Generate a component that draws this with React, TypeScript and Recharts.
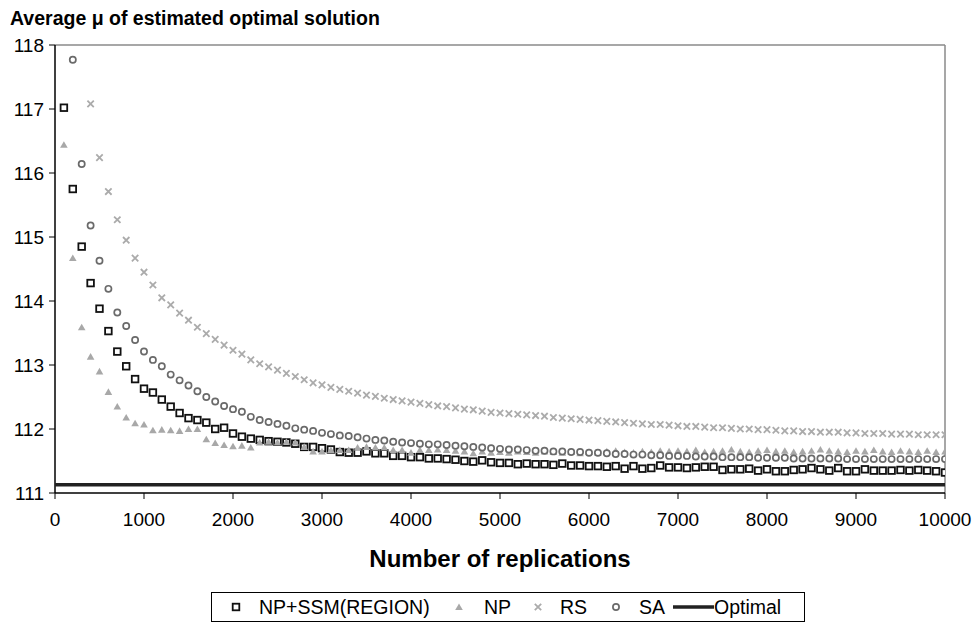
import React from "react";
import { ScatterChart, Scatter, XAxis, YAxis, ReferenceLine, Legend, Label } from "recharts";

const FONT = '"Liberation Sans", Arial, Helvetica, sans-serif';

// number of replications (x values)
const replications = [
  100, 200, 300, 400, 500, 600, 700, 800, 900, 1000,
  1100, 1200, 1300, 1400, 1500, 1600, 1700, 1800, 1900, 2000,
  2100, 2200, 2300, 2400, 2500, 2600, 2700, 2800, 2900, 3000,
  3100, 3200, 3300, 3400, 3500, 3600, 3700, 3800, 3900, 4000,
  4100, 4200, 4300, 4400, 4500, 4600, 4700, 4800, 4900, 5000,
  5100, 5200, 5300, 5400, 5500, 5600, 5700, 5800, 5900, 6000,
  6100, 6200, 6300, 6400, 6500, 6600, 6700, 6800, 6900, 7000,
  7100, 7200, 7300, 7400, 7500, 7600, 7700, 7800, 7900, 8000,
  8100, 8200, 8300, 8400, 8500, 8600, 8700, 8800, 8900, 9000,
  9100, 9200, 9300, 9400, 9500, 9600, 9700, 9800, 9900, 10000,
];

const npSsm = [
  117.02, 115.75, 114.85, 114.28, 113.88, 113.53, 113.21, 112.98, 112.78, 112.63,
  112.57, 112.46, 112.35, 112.25, 112.17, 112.14, 112.1, 112.0, 112.02, 111.93,
  111.88, 111.85, 111.83, 111.81, 111.8, 111.79, 111.77, 111.72, 111.72, 111.7,
  111.68, 111.64, 111.63, 111.63, 111.65, 111.62, 111.62, 111.58, 111.58, 111.56,
  111.56, 111.54, 111.54, 111.53, 111.52, 111.5, 111.49, 111.51, 111.48, 111.47,
  111.47, 111.45, 111.46, 111.45, 111.45, 111.44, 111.46, 111.43, 111.43, 111.42,
  111.42, 111.41, 111.42, 111.38, 111.42, 111.38, 111.39, 111.43, 111.4, 111.4,
  111.39, 111.4, 111.41, 111.41, 111.36, 111.37, 111.37, 111.38, 111.35, 111.37,
  111.34, 111.34, 111.36, 111.37, 111.39, 111.37, 111.35, 111.39, 111.34, 111.34,
  111.37, 111.35, 111.35, 111.35, 111.36, 111.35, 111.36, 111.35, 111.34, 111.32,
];

const np = [
  116.44, 114.67, 113.59, 113.13, 112.9, 112.58, 112.35, 112.18, 112.09, 112.07,
  111.98, 111.99, 111.98, 111.97, 112.0, 112.0, 111.84, 111.78, 111.75, 111.73,
  111.74, 111.71, 111.79, 111.8, 111.79, 111.8, 111.79, 111.72, 111.65, 111.65,
  111.67, 111.67, 111.67, 111.71, 111.72, 111.71, 111.71, 111.67, 111.67, 111.63,
  111.67, 111.67, 111.68, 111.67, 111.66, 111.65, 111.62, 111.65, 111.63, 111.64,
  111.63, 111.65, 111.64, 111.63, 111.65, 111.64, 111.63, 111.64, 111.62, 111.64,
  111.63, 111.65, 111.66, 111.64, 111.63, 111.65, 111.64, 111.66, 111.65, 111.66,
  111.65, 111.67, 111.64, 111.65, 111.66, 111.68, 111.65, 111.64, 111.66, 111.67,
  111.65, 111.66, 111.64, 111.65, 111.66, 111.68, 111.66, 111.65, 111.64, 111.66,
  111.65, 111.67, 111.65, 111.64, 111.66, 111.65, 111.64, 111.66, 111.64, 111.65,
];

const rs = [
  null, null, null, 117.08, 116.24, 115.71, 115.27, 114.95, 114.67, 114.45,
  114.25, 114.05, 113.94, 113.81, 113.7, 113.59, 113.49, 113.4, 113.31, 113.23,
  113.17, 113.08, 113.02, 112.97, 112.92, 112.87, 112.82, 112.77, 112.72, 112.69,
  112.65, 112.62, 112.59, 112.56, 112.53, 112.51, 112.48, 112.46, 112.44, 112.42,
  112.4, 112.38, 112.36, 112.35, 112.33, 112.31, 112.3, 112.28, 112.26, 112.25,
  112.24, 112.23, 112.22, 112.21, 112.2, 112.18, 112.17, 112.16, 112.15, 112.14,
  112.13, 112.12, 112.11, 112.1, 112.09, 112.08, 112.07, 112.07, 112.06, 112.05,
  112.04, 112.04, 112.03, 112.02, 112.02, 112.01, 112.0, 112.0, 111.99, 111.99,
  111.98, 111.97, 111.97, 111.96, 111.96, 111.95, 111.95, 111.95, 111.94, 111.94,
  111.93, 111.93, 111.93, 111.92, 111.92, 111.92, 111.91, 111.91, 111.91, 111.91,
];

const sa = [
  null, 117.77, 116.14, 115.18, 114.63, 114.19, 113.82, 113.61, 113.39, 113.21,
  113.08, 112.98, 112.85, 112.76, 112.68, 112.59, 112.5, 112.43, 112.36, 112.31,
  112.27, 112.19, 112.14, 112.11, 112.08, 112.05, 112.01, 111.99, 111.97, 111.94,
  111.92, 111.9, 111.89, 111.87, 111.85, 111.83, 111.82, 111.8, 111.79, 111.78,
  111.77, 111.76, 111.76, 111.75, 111.74, 111.73, 111.72, 111.71, 111.7, 111.69,
  111.68, 111.68, 111.67, 111.66, 111.66, 111.65, 111.65, 111.64, 111.64, 111.63,
  111.63, 111.62, 111.61, 111.61, 111.6, 111.6, 111.59, 111.59, 111.58, 111.58,
  111.58, 111.57, 111.57, 111.57, 111.56, 111.56, 111.56, 111.56, 111.55, 111.55,
  111.55, 111.55, 111.54, 111.54, 111.54, 111.54, 111.54, 111.54, 111.53, 111.53,
  111.53, 111.53, 111.53, 111.53, 111.53, 111.53, 111.53, 111.53, 111.53, 111.53,
];

const optimalX = [0, 10000];
const optimalY = [111.13, 111.13];

const xTicks = [0, 1000, 2000, 3000, 4000, 5000, 6000, 7000, 8000, 9000, 10000];
const yTicks = [111, 112, 113, 114, 115, 116, 117, 118];

const toPoints = (xs: number[], ys: (number | null)[]) =>
  xs.map((x, i) => ({ x, y: ys[i] })).filter((p) => p.y !== null);

const SQ = "#111111";
const TRI = "#a8a8a8";
const CROSS = "#ababab";
const CIRC = "#6a6a6a";

function SquareMark(props: any) {
  const { cx, cy } = props;
  if (cx == null || cy == null) return <g />;
  return <rect x={cx - 3.3} y={cy - 3.3} width={6.6} height={6.6} fill="#fff" stroke={SQ} strokeWidth={1.8} />;
}

function TriangleMark(props: any) {
  const { cx, cy } = props;
  if (cx == null || cy == null) return <g />;
  return <polygon points={`${cx},${cy - 3.6} ${cx + 3.8},${cy + 3} ${cx - 3.8},${cy + 3}`} fill={TRI} />;
}

function CrossMark(props: any) {
  const { cx, cy } = props;
  if (cx == null || cy == null) return <g />;
  const d = 3.2;
  return (
    <path
      d={`M${cx - d},${cy - d}L${cx + d},${cy + d}M${cx - d},${cy + d}L${cx + d},${cy - d}`}
      stroke={CROSS}
      strokeWidth={1.8}
      fill="none"
    />
  );
}

function CircleMark(props: any) {
  const { cx, cy } = props;
  if (cx == null || cy == null) return <g />;
  return <circle cx={cx} cy={cy} r={3.1} fill="#fff" stroke={CIRC} strokeWidth={1.7} />;
}

function NoMark() {
  return <g />;
}

function ChartLegend() {
  const ty = 21.5;
  const my = 15;
  const txt = { fontSize: 19.5, fontFamily: FONT, fill: "#000" };
  return (
    <svg width={594} height={30} style={{ display: "block" }}>
      <rect x={0.5} y={0.5} width={593} height={29} fill="#fff" stroke="#000" strokeWidth={1} />
      <SquareMark cx={25} cy={my} />
      <text x={48} y={ty} style={txt}>NP+SSM(REGION)</text>
      <TriangleMark cx={248} cy={my} />
      <text x={273} y={ty} style={txt}>NP</text>
      <CrossMark cx={327} cy={my} />
      <text x={349} y={ty} style={txt}>RS</text>
      <CircleMark cx={405} cy={my} />
      <text x={428} y={ty} style={txt}>SA</text>
      <line x1={462} y1={my} x2={503} y2={my} stroke="#222" strokeWidth={3.5} />
      <text x={503} y={ty} style={txt}>Optimal</text>
    </svg>
  );
}

export default function App() {
  const tickStyle = { fontSize: 19, fill: "#000", fontFamily: FONT };
  return (
    <div style={{ position: "absolute", left: 0, top: 0, width: 977, height: 625, background: "#fff" }}>
      <div
        style={{
          position: "absolute",
          left: 10,
          top: 7,
          fontFamily: FONT,
          fontWeight: "bold",
          fontSize: 19.5,
          lineHeight: "22px",
          color: "#000",
          whiteSpace: "nowrap",
        }}
      >
        Average μ of estimated optimal solution
      </div>
      <ScatterChart width={977} height={625} margin={{ top: 45, right: 32, bottom: 0, left: 0 }}>
        <XAxis
          type="number"
          dataKey="x"
          domain={[0, 10000]}
          ticks={xTicks}
          interval={0}
          height={132}
          tick={tickStyle}
          tickSize={6}
          tickMargin={14}
          tickLine={{ stroke: "#000" }}
          axisLine={{ stroke: "#000", strokeWidth: 1.5 }}
          allowDataOverflow
        >
          <Label
            value="Number of replications"
            position="insideTop"
            offset={57}
            style={{ fontSize: 24, fontWeight: "bold", fill: "#000", fontFamily: FONT }}
          />
        </XAxis>
        <YAxis
          type="number"
          dataKey="y"
          domain={[111, 118]}
          ticks={yTicks}
          interval={0}
          width={55}
          tick={tickStyle}
          tickSize={6}
          tickMargin={5}
          tickLine={{ stroke: "#000" }}
          axisLine={{ stroke: "#000", strokeWidth: 1.5 }}
          allowDataOverflow
        />
        <ReferenceLine y={118} stroke="#8a8a8a" strokeWidth={1.5} />
        <ReferenceLine x={10000} stroke="#8a8a8a" strokeWidth={1.5} />
        <Legend
          layout="horizontal"
          verticalAlign="middle"
          align="center"
          wrapperStyle={{ left: 211, top: 592, width: 594, height: 30 }}
          content={() => <ChartLegend />}
        />
        <Scatter name="NP+SSM(REGION)" data={toPoints(replications, npSsm)} shape={SquareMark} isAnimationActive={false} />
        <Scatter name="NP" data={toPoints(replications, np)} shape={TriangleMark} isAnimationActive={false} />
        <Scatter name="RS" data={toPoints(replications, rs)} shape={CrossMark} isAnimationActive={false} />
        <Scatter name="SA" data={toPoints(replications, sa)} shape={CircleMark} isAnimationActive={false} />
        <Scatter
          name="Optimal"
          data={toPoints(optimalX, optimalY)}
          shape={NoMark}
          line={{ stroke: "#222", strokeWidth: 3.5 }}
          isAnimationActive={false}
        />
      </ScatterChart>
    </div>
  );
}
